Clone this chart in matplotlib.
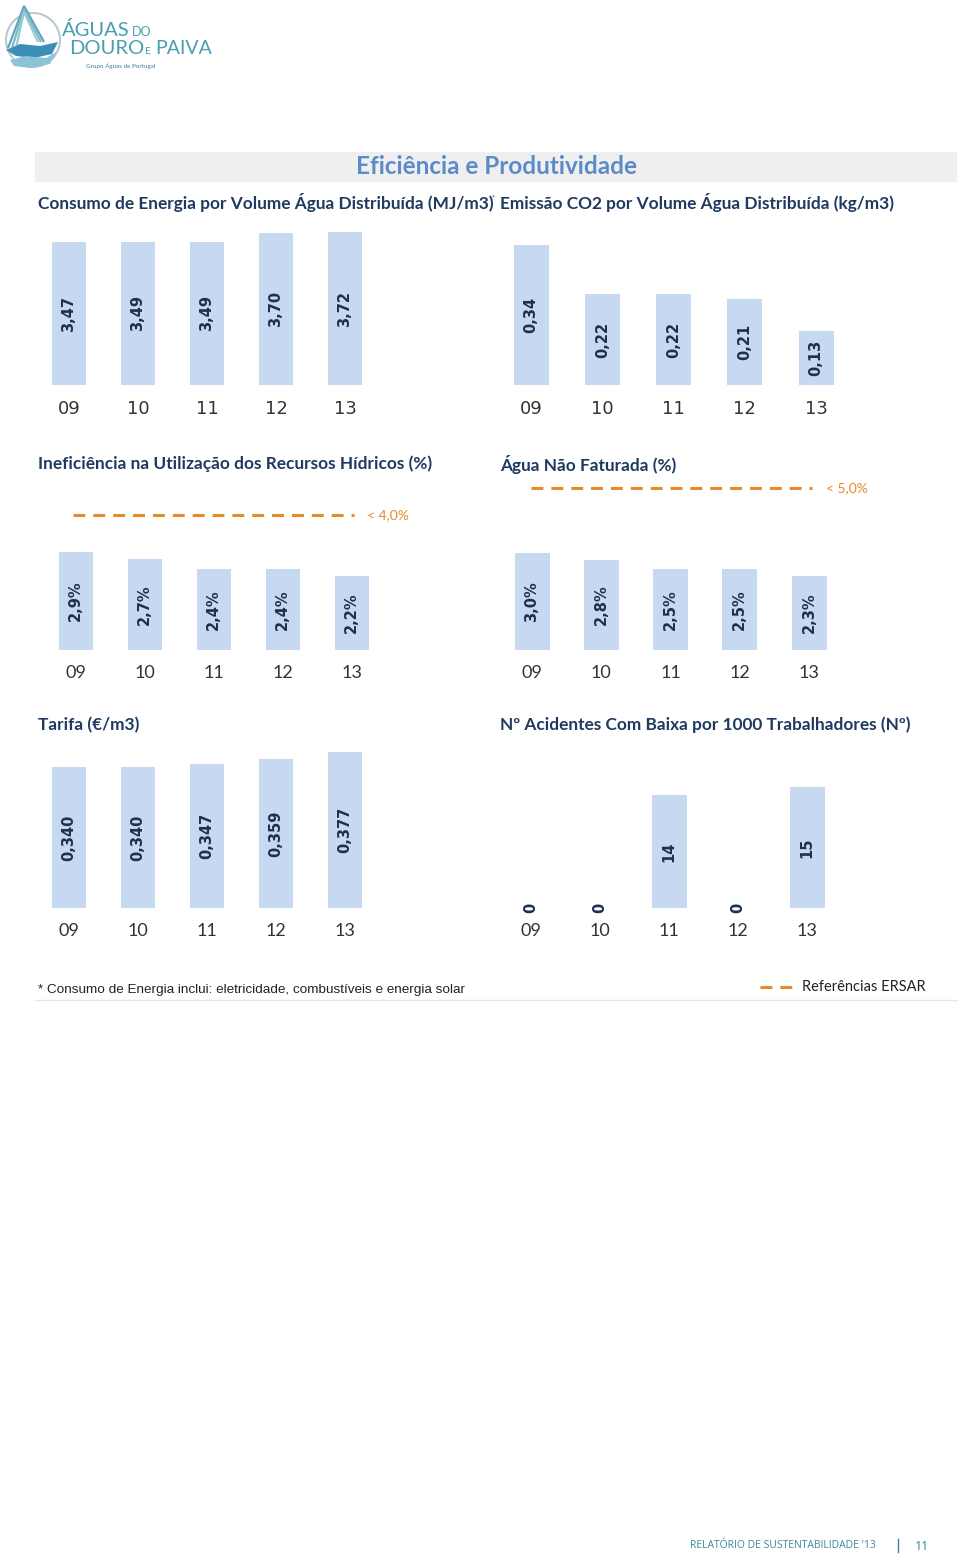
import matplotlib
matplotlib.use("Agg")
import matplotlib.pyplot as plt
from matplotlib.patches import Rectangle, Circle, Polygon

# ---------------- data ----------------
years = ["09", "10", "11", "12", "13"]
energia = [3.47, 3.49, 3.49, 3.70, 3.72]
co2 = [0.34, 0.22, 0.22, 0.21, 0.13]
ineficiencia = [2.9, 2.7, 2.4, 2.4, 2.2]
agua_nao_faturada = [3.0, 2.8, 2.5, 2.5, 2.3]
tarifa = [0.340, 0.340, 0.347, 0.359, 0.377]
acidentes = [0, 0, 14, 0, 15]
ref_ineficiencia = 4.0
ref_agua_nf = 5.0

titulo = "Eficiência e Produtividade"
sub_energia = "Consumo de Energia por Volume Água Distribuída (MJ/m3)"
sub_co2 = "Emissão CO2 por Volume Água Distribuída (kg/m3)"
sub_inef = "Ineficiência na Utilização dos Recursos Hídricos (%)"
sub_anf = "Água Não Faturada (%)"
sub_tarifa = "Tarifa (€/m3)"
sub_acid = "Nº Acidentes Com Baixa por 1000 Trabalhadores (Nº)"
nota = "* Consumo de Energia inclui: eletricidade, combustíveis e energia solar"
legenda = "Referências ERSAR"


def fmt(v, d, pct=False):
    s = f"{v:.{d}f}".replace(".", ",")
    return s + "%" if pct else s


# ---------------- styles ----------------
W, H = 960, 1560
BAR = "#C6D9F1"
NAVY = "#1F2F4F"
SUB = "#1F3A60"
ORANGE = "#E8892B"
TICK = "#333333"
TITLE_FONT = ["Lato", "DejaVu Sans"]

fig = plt.figure(figsize=(W / 100, H / 100), dpi=100)
ov = fig.add_axes([0, 0, 1, 1], zorder=0)
ov.set_xlim(0, W)
ov.set_ylim(H, 0)
ov.axis("off")

# ---- logo ----
teal = "#4B9DB3"
ov.add_patch(Circle((33, 40), 27, fill=False, ec="#B9C9CF", lw=1.5))
for k, c in enumerate(["#5AA7BD", "#7BB9C9", "#9BCAD6"]):
    ov.add_patch(Polygon([[8 + 4 * k, 48], [24, 6 + 3 * k], [44 - 3 * k, 42]],
                         closed=False, fill=False, ec=c, lw=1.6))
ov.add_patch(Polygon([[6, 50], [20, 44], [40, 46], [58, 42], [52, 54], [34, 58], [16, 56]],
                     closed=True, fc="#3C8FB4", ec="none"))
ov.add_patch(Polygon([[10, 60], [26, 56], [46, 58], [56, 52], [50, 64], [30, 68], [14, 66]],
                     closed=True, fc="#8DC3D8", ec="none"))
ov.text(62, 30, "ÁGUAS", fontsize=14.5, color=teal, family=TITLE_FONT, va="center")
ov.text(132, 32, "DO", fontsize=9, color=teal, family=TITLE_FONT, va="center")
ov.text(69, 48, "DOURO", fontsize=14.5, color=teal, family=TITLE_FONT, va="center")
ov.text(145, 51, "E", fontsize=7.5, color=teal, family=TITLE_FONT, va="center")
ov.text(155, 48, "PAIVA", fontsize=14, color=teal, family=TITLE_FONT, va="center")
ov.text(86, 66, "Grupo Águas de Portugal", fontsize=4.5, color="#3E7F96",
        family=TITLE_FONT, va="center")

# ---- title band ----
ov.add_patch(Rectangle((35, 152), 922, 30, fc="#EFEFEF", ec="none"))
ov.text(497, 166, titulo, fontsize=17.5, fontweight="bold", color="#5B8CC8",
        ha="center", va="center", family=TITLE_FONT)

sub_kw = dict(fontsize=12.4, fontweight="bold", color=SUB, va="center", family=TITLE_FONT)
ov.text(38, 202, sub_energia, **sub_kw)
ov.text(492, 198, "*", fontsize=5, color=SUB, va="center", family=TITLE_FONT)
ov.text(500, 202, sub_co2, **sub_kw)
ov.text(38, 464, sub_inef, **sub_kw)
ov.text(500, 464, sub_anf, **sub_kw)
ov.text(38, 725, sub_tarifa, **sub_kw)
ov.text(500, 725, sub_acid, **sub_kw)

# ---- footnote / legend ----
ov.text(38, 990, nota, fontsize=9.7, color="#222222", va="center",
        family=["Liberation Sans", "DejaVu Sans"])
ov.plot([760, 792], [987, 987], color=ORANGE, lw=2.2, dashes=(3.9, 2.6))
ov.text(802, 987, legenda, fontsize=10.5, color="#222222", va="center",
        family=["Lato", "DejaVu Sans"])
ov.plot([35, 957], [1000, 1000], color="#E6E6E6", lw=1)

# ---- footer ----
ov.text(690, 1546, "RELATÓRIO DE SUSTENTABILIDADE '13", fontsize=7.5, color="#3D8799",
        va="center", family=["Open Sans", "DejaVu Sans"])
ov.plot([898, 898], [1539, 1552], color="#3D8799", lw=1)
ov.text(915, 1546, "11", fontsize=9, color="#3D8799", va="center",
        family=["Open Sans", "DejaVu Sans"])


# ---------------- charts ----------------
def chart(c0, step, base, ppu, ymax, values, labels, barpx, tickfont, pad):
    left = c0 - step / 2
    ax = fig.add_axes([left / W, (H - base) / H, 5 * step / W, ymax * ppu / H], zorder=2)
    ax.set_xlim(-0.5, 4.5)
    ax.set_ylim(0, ymax)
    ax.patch.set_alpha(0)
    for s in ax.spines.values():
        s.set_visible(False)
    ax.set_yticks([])
    x = list(range(len(values)))
    ax.bar(x, values, width=barpx / step, color=BAR)
    for xi, v, lb in zip(x, values, labels):
        ax.text(xi, v / 2, lb, rotation=90, ha="center", va="center",
                fontsize=10.5, fontweight="bold", color=NAVY, family="DejaVu Sans")
    ax.set_xticks(x, years)
    ax.tick_params(axis="x", length=0, pad=pad, labelsize=13, labelcolor=TICK)
    for t in ax.get_xticklabels():
        t.set_family(tickfont)
    return ax


chart(69, 69, 385, 41.1, 4.2, energia, [fmt(v, 2) for v in energia], 34, "DejaVu Sans", 10.5)
chart(531, 71.25, 385, 411.8, 0.40, co2, [fmt(v, 2) for v in co2], 35, "DejaVu Sans", 10.5)
a3 = chart(75.5, 69, 650, 33.8, 4.4, ineficiencia,
           [fmt(v, 1, True) for v in ineficiencia], 34, "Lato", 11)
a4 = chart(532, 69.25, 650, 32.3, 5.4, agua_nao_faturada,
           [fmt(v, 1, True) for v in agua_nao_faturada], 35, "Lato", 11)
chart(69, 69, 908, 414, 0.42, tarifa, [fmt(v, 3) for v in tarifa], 34, "Lato", 11)
chart(531, 69, 908, 8.07, 17, acidentes, [str(v) for v in acidentes], 35, "Lato", 11)

a3.plot([-0.04, 4.04], [ref_ineficiencia] * 2, color=ORANGE, lw=2.2, dashes=(3.9, 2.6))
a3.text(4.22, ref_ineficiencia, "< " + fmt(ref_ineficiencia, 1, True), color=ORANGE,
        fontsize=10, va="center", family="Lato")
a4.plot([-0.01, 4.04], [ref_agua_nf] * 2, color=ORANGE, lw=2.2, dashes=(3.9, 2.6))
a4.text(4.25, ref_agua_nf, "< " + fmt(ref_agua_nf, 1, True), color=ORANGE,
        fontsize=10, va="center", family="Lato")

fig.savefig("out.png", dpi=100)
